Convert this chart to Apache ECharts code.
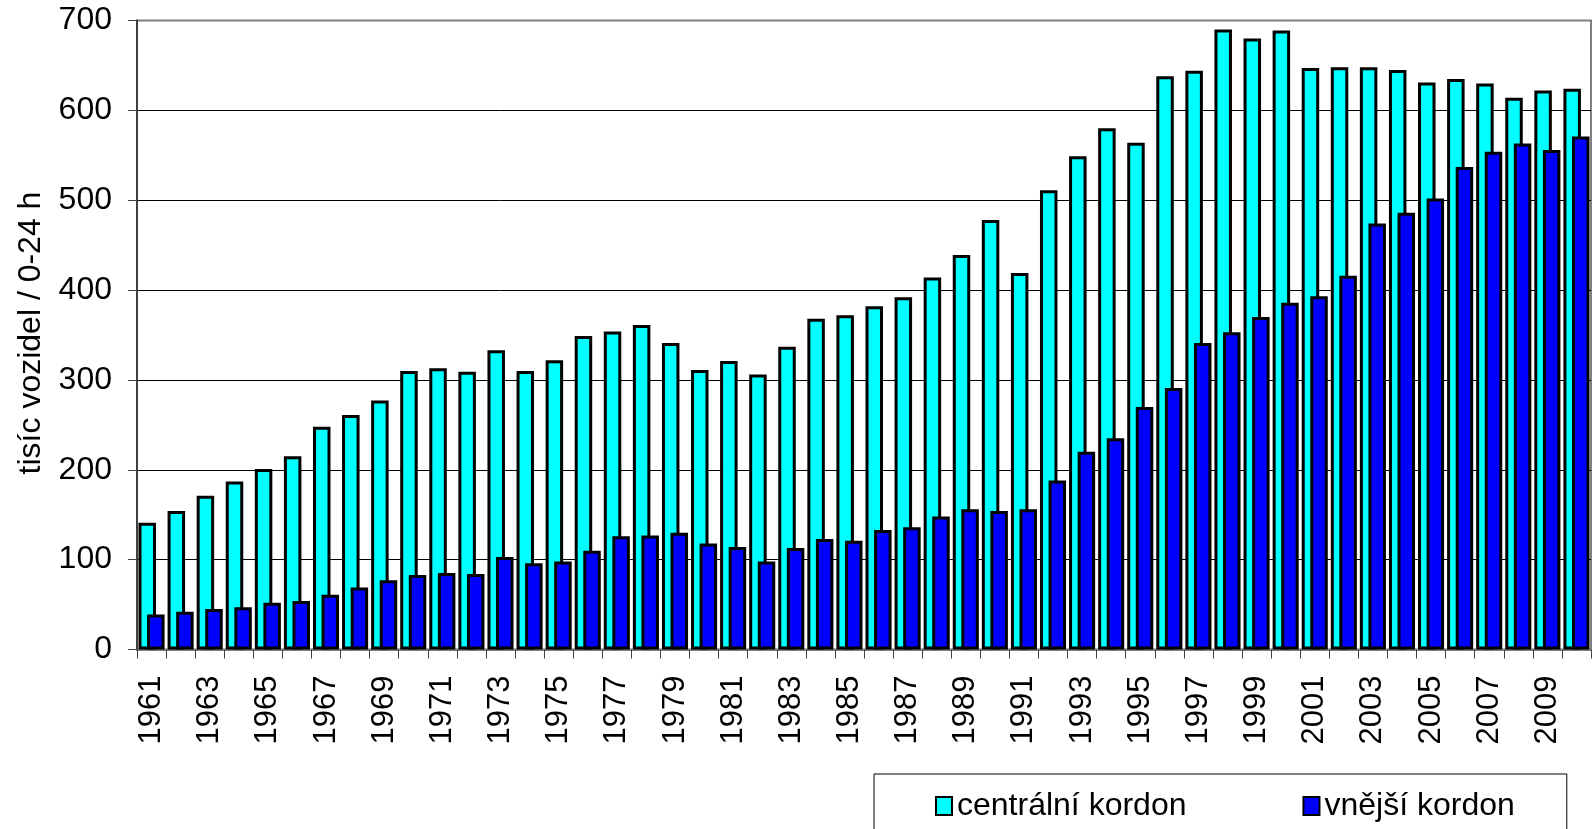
<!DOCTYPE html>
<html>
<head>
<meta charset="utf-8">
<script src="https://cdn.jsdelivr.net/npm/echarts@6/dist/echarts.min.js"></script>
<style>
  html, body { margin: 0; padding: 0; background: #fff; }
  #chart { width: 1593px; height: 829px; }
</style>
</head>
<body>
<div id="chart"></div>
<script>
const years = [
    "1961", "1962", "1963", "1964", "1965", "1966", "1967", "1968", "1969", "1970",
    "1971", "1972", "1973", "1974", "1975", "1976", "1977", "1978", "1979", "1980",
    "1981", "1982", "1983", "1984", "1985", "1986", "1987", "1988", "1989", "1990",
    "1991", "1992", "1993", "1994", "1995", "1996", "1997", "1998", "1999", "2000",
    "2001", "2002", "2003", "2004", "2005", "2006", "2007", "2008", "2009", "2010"
]
const centralni = [
    141, 154, 171, 187, 201, 215, 248, 261, 277, 310,
    313, 309, 333, 310, 322, 349, 354, 361, 341, 311,
    321, 306, 337, 368, 372, 382, 392, 414, 439, 478,
    419, 511, 549, 580, 564, 638, 644, 690, 680, 689,
    647, 648, 648, 645, 631, 635, 630, 614, 622, 624
]
const vnejsi = [
    39, 42, 45, 47, 52, 54, 61, 69, 77, 83,
    85, 84, 103, 96, 98, 110, 126, 127, 130, 118,
    114, 98, 113, 123, 121, 133, 136, 148, 156, 154,
    156, 188, 220, 235, 270, 291, 341, 353, 370, 386,
    393, 416, 474, 486, 502, 537, 554, 563, 556, 571
]
const seriesNames = ["centrální kordon", "vnější kordon"]
const yTitle = "tisíc vozidel / 0-24 h"

const font = "'Liberation Sans', Arial, sans-serif"

const chart = echarts.init(document.getElementById("chart"), null, { renderer: "canvas" })

// gridline colours: the top one sits on the grey plot border
const gridColors = ["#000", "#000", "#000", "#000", "#000", "#000", "#000", "#808080"]

const option = {
    animation: false,
    textStyle: { fontFamily: font },
    grid: {
        left: 137,
        right: 2,
        top: 20.5,
        bottom: 179.5,
        show: true,
        borderColor: "#808080",
        borderWidth: 2,
        backgroundColor: "transparent"
    },
    legend: {
        data: seriesNames,
        icon: "rect",
        left: 874,
        top: 774,
        orient: "horizontal",
        itemWidth: 16,
        itemHeight: 18,
        itemGap: 116,
        padding: [16, 52, 40, 61],
        borderColor: "#000",
        borderWidth: 1,
        textStyle: { fontSize: 32, color: "#000", fontFamily: font }
    },
    xAxis: {
        type: "category",
        data: years,
        boundaryGap: true,
        axisLine: { lineStyle: { color: "#808080", width: 2 } },
        axisTick: { show: true, interval: 0, length: 9, lineStyle: { color: "#404040" } },
        axisLabel: {
            interval: 1,
            rotate: 90,
            margin: 26,
            fontSize: 31,
            color: "#000",
            fontFamily: font
        }
    },
    yAxis: {
        type: "value",
        min: 0,
        max: 700,
        interval: 100,
        axisLine: { show: true, lineStyle: { color: "#404040", width: 2 } },
        axisTick: { show: true, length: 9, lineStyle: { color: "#404040" } },
        axisLabel: { margin: 25, fontSize: 32, color: "#000", fontFamily: font },
        splitLine: { lineStyle: { color: gridColors, width: 1 } }
    },
    graphic: [
        {
            type: "text",
            x: 31,
            y: 333,
            rotation: Math.PI / 2,
            style: {
                text: yTitle,
                fontSize: 32,
                fontFamily: font,
                fill: "#000",
                align: "center",
                verticalAlign: "middle"
            }
        }
    ],
    series: [
        {
            name: seriesNames[0],
            type: "bar",
            data: centralni,
            barWidth: 17.5,
            barGap: "-51%",
            itemStyle: { color: "#00FFFF", borderColor: "#000", borderWidth: 3 }
        },
        {
            name: seriesNames[1],
            type: "bar",
            data: vnejsi,
            barWidth: 17.5,
            itemStyle: { color: "#0000FF", borderColor: "#000", borderWidth: 3 }
        }
    ]
}

chart.setOption(option)
</script>
</body>
</html>
